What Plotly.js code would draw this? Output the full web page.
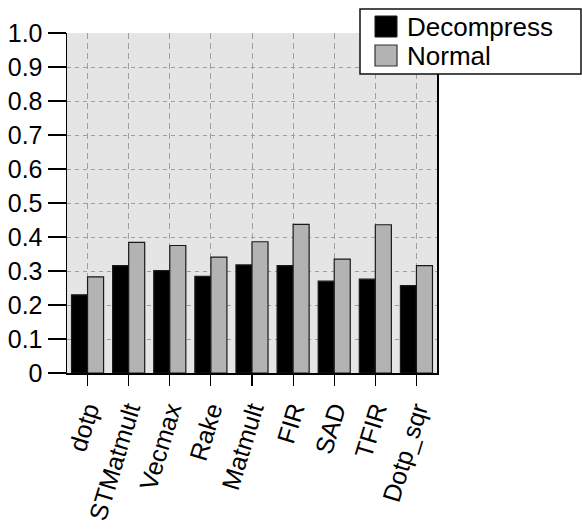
<!DOCTYPE html>
<html>
<head>
<meta charset="utf-8">
<script src="https://cdn.plot.ly/plotly-3.0.1.min.js"></script>
<style>html,body{margin:0;padding:0;background:#fff;}#chart{width:582px;height:529px;}</style>
</head>
<body>
<div id="chart"></div>
<script>
const categories = ["dotp", "STMatmult", "Vecmax", "Rake", "Matmult", "FIR", "SAD", "TFIR", "Dotp_sqr"];
const decompress = [0.230, 0.316, 0.301, 0.284, 0.318, 0.316, 0.270, 0.276, 0.257];
const normal = [0.283, 0.384, 0.375, 0.341, 0.386, 0.437, 0.335, 0.436, 0.316];
const seriesNames = ["Decompress", "Normal"];
const yTickVals = [0, 0.1, 0.2, 0.3, 0.4, 0.5, 0.6, 0.7, 0.8, 0.9, 1.0];
const yTickText = ["0", "0.1", "0.2", "0.3", "0.4", "0.5", "0.6", "0.7", "0.8", "0.9", "1.0"];

const FONT = "Liberation Sans, Arial, sans-serif";
const colors = ["#000000", "#b3b3b3"];

const traces = [decompress, normal].map((vals, i) => ({
  type: "bar",
  x: categories,
  y: vals,
  name: seriesNames[i],
  marker: {color: colors[i], line: {color: "#1a1a1a", width: 1.2}},
  showlegend: false,
  hoverinfo: "x+y"
}));

// manual legend (pixel -> paper helpers)
const L = 67, T = 33, W = 370, H = 340;
const px = v => (v - L) / W;
const py = v => (T + H - v) / H;

const shapes = [
  {type: "rect", xref: "paper", yref: "paper", x0: px(360), x1: px(581), y0: py(74), y1: py(9),
   fillcolor: "#ffffff", line: {color: "#111111", width: 1.5}, layer: "above"},
  {type: "rect", xref: "paper", yref: "paper", x0: px(375), x1: px(397), y0: py(37), y1: py(16),
   fillcolor: colors[0], line: {color: "#1a1a1a", width: 1}, layer: "above"},
  {type: "rect", xref: "paper", yref: "paper", x0: px(375), x1: px(397), y0: py(66), y1: py(45),
   fillcolor: colors[1], line: {color: "#333333", width: 1.2}, layer: "above"}
];
const annotations = seriesNames.map((n, i) => ({
  xref: "paper", yref: "paper", x: px(406), y: py(i === 0 ? 26.5 : 55.5),
  xanchor: "left", yanchor: "middle", showarrow: false, text: n,
  borderpad: 0,
  font: {family: FONT, size: 26, color: "#000"}
}));

const layout = {
  width: 582, height: 529,
  margin: {l: 67, r: 145, t: 33, b: 156, pad: 0},
  paper_bgcolor: "#ffffff",
  plot_bgcolor: "#e5e5e5",
  barmode: "group",
  bargap: 0.22,
  bargroupgap: 0,
  font: {family: FONT, size: 25, color: "#000"},
  xaxis: {
    type: "category",
    range: [-0.5, 8.5],
    tickangle: -73,
    ticks: "outside", ticklen: 11, tickwidth: 1.2, tickcolor: "#000",
    showline: true, linecolor: "#000", linewidth: 1.5,
    showgrid: true, gridcolor: "#a0a0a0", griddash: "6px,4px", gridwidth: 1,
    tickfont: {family: FONT, size: 25, color: "#000"},
    fixedrange: true
  },
  yaxis: {
    range: [0, 1.0],
    tickvals: yTickVals, ticktext: yTickText,
    ticks: "outside", ticklen: 18, tickwidth: 1.2, tickcolor: "#000",
    showline: true, linecolor: "#000", linewidth: 1.5, mirror: true,
    showgrid: true, gridcolor: "#a0a0a0", griddash: "4px,4px", gridwidth: 1,
    zeroline: false,
    tickfont: {family: FONT, size: 25, color: "#000"},
    fixedrange: true
  },
  shapes: shapes,
  annotations: annotations,
  showlegend: false
};

Plotly.newPlot("chart", traces, layout, {displayModeBar: false, staticPlot: true});
</script>
</body>
</html>
